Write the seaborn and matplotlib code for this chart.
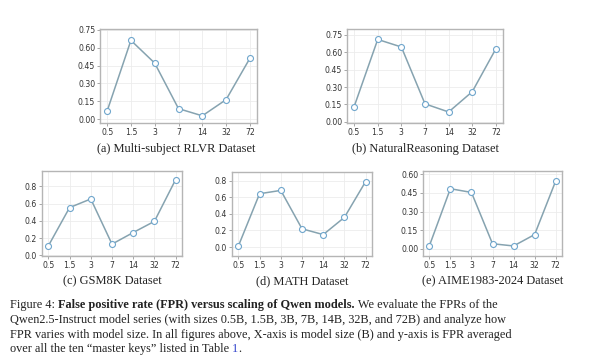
import matplotlib
matplotlib.use("Agg")
import matplotlib.pyplot as plt
import numpy as np
import pandas as pd
import seaborn as sns

sizes = ["0.5", "1.5", "3", "7", "14", "32", "72"]

fpr_rlvr = [0.07, 0.66, 0.47, 0.09, 0.03, 0.165, 0.51]
fpr_natural = [0.13, 0.71, 0.645, 0.155, 0.085, 0.26, 0.63]
fpr_gsm8k = [0.11, 0.555, 0.655, 0.13, 0.265, 0.395, 0.88]
fpr_math = [0.012, 0.643, 0.683, 0.22, 0.15, 0.358, 0.79]
fpr_aime = [0.022, 0.484, 0.454, 0.04, 0.022, 0.114, 0.546]

captions = ["(a) Multi-subject RLVR Dataset", "(b) NaturalReasoning Dataset",
            "(c) GSM8K Dataset", "(d) MATH Dataset", "(e) AIME1983-2024 Dataset"]
yticks_all = [[0.0, 0.15, 0.30, 0.45, 0.60, 0.75],
              [0.0, 0.15, 0.30, 0.45, 0.60, 0.75],
              [0.0, 0.2, 0.4, 0.6, 0.8],
              [0.0, 0.2, 0.4, 0.6, 0.8],
              [0.0, 0.15, 0.30, 0.45, 0.60]]
ylims = [(-0.03, 0.755), (-0.01, 0.80), (-0.008, 0.98), (-0.108, 0.905), (-0.059, 0.627)]
tick_fmt = ["{:.2f}", "{:.2f}", "{:.1f}", "{:.1f}", "{:.2f}"]

sns.set_style("whitegrid")

W, H = 600, 364
fig = plt.figure(figsize=(6, 3.64), dpi=100)

# axes boxes in pixels: left, top, right, bottom
boxes = [(100, 29, 257, 123), (347, 29, 503, 123),
         (42, 171, 182, 256), (232, 172, 372, 256), (423, 171, 562, 256)]
cap_y = [149, 149, 281, 281, 281]

series = [fpr_rlvr, fpr_natural, fpr_gsm8k, fpr_math, fpr_aime]

for i, (l, t, r, b) in enumerate(boxes):
    ax = fig.add_axes([l / W, 1 - b / H, (r - l) / W, (b - t) / H])
    df = pd.DataFrame({"size": sizes, "fpr": series[i]})
    sns.lineplot(data=df, x="size", y="fpr", ax=ax, color="#86a3b0", linewidth=1.1,
                 marker="o", markersize=4.3, markerfacecolor="white",
                 markeredgecolor="#6fa6cc", markeredgewidth=0.8)
    ax.set_xlim(-0.3, 6.3)
    ax.set_ylim(*ylims[i])
    ax.set_yticks(yticks_all[i])
    ax.set_yticklabels([tick_fmt[i].format(v) for v in yticks_all[i]])
    ax.set_xlabel("")
    ax.set_ylabel("")
    ax.grid(True, color="#ececec", linewidth=0.6)
    for sp in ax.spines.values():
        sp.set_color("#b5b5b5")
        sp.set_linewidth(1.0)
    ax.tick_params(axis="both", labelsize=5.6, colors="#333333", length=2, width=0.6,
                   pad=1.5, left=True, bottom=True)
    ax.tick_params(axis="both", color="#999999")
    cx = (l + r) / 2 if i != 0 else 176
    fig.text(cx / W, 1 - cap_y[i] / H, captions[i], ha="center", va="center",
             fontsize=8.9, family="Liberation Serif", color="#222222")

# figure caption with a bold part
cap_lines = [
    [("Figure 4: ", "normal", "#222222"),
     ("False positive rate (FPR) versus scaling of Qwen models.", "bold", "#222222"),
     (" We evaluate the FPRs of the", "normal", "#222222")],
    [("Qwen2.5-Instruct model series (with sizes 0.5B, 1.5B, 3B, 7B, 14B, 32B, and 72B) and analyze how", "normal", "#222222")],
    [("FPR varies with model size. In all figures above, X-axis is model size (B) and y-axis is FPR averaged", "normal", "#222222")],
    [("over all the ten \u201cmaster keys\u201d listed in Table ", "normal", "#222222"),
     ("1", "normal", "#3344cc"),
     (".", "normal", "#222222")],
]
line_y = [305, 320, 335, 349]

fig.canvas.draw()
renderer = fig.canvas.get_renderer()
for pieces, y in zip(cap_lines, line_y):
    x = 10
    for txt, weight, col in pieces:
        tt = fig.text(x / W, 1 - y / H, txt, ha="left", va="center", fontsize=8.8,
                      family="Liberation Serif", weight=weight, color=col)
        bb = tt.get_window_extent(renderer=renderer)
        x += bb.width

fig.savefig("out.png", dpi=100, facecolor="white")
